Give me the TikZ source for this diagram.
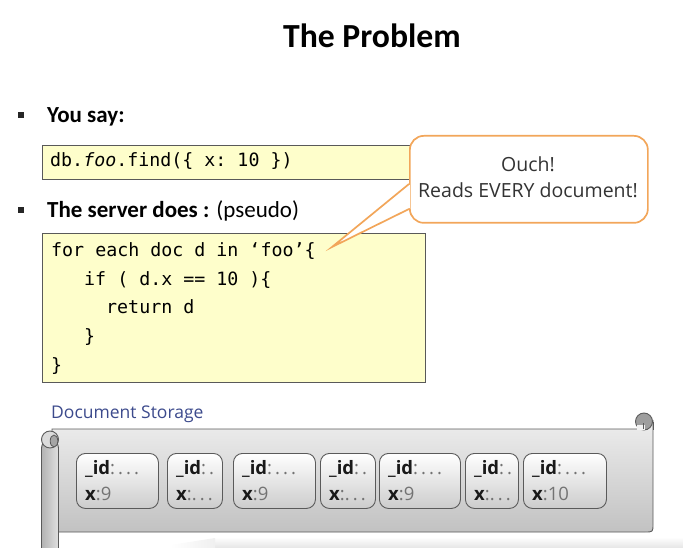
\documentclass[tikz,border=0pt]{standalone}
\usepackage{fontspec}
\setmainfont{Carlito}
\setmonofont{DejaVu Sans Mono}
\newfontfamily\handfont{Open Sans}
\usetikzlibrary{calc}

\definecolor{codeyellow}{HTML}{FEFECB}
\definecolor{calloutorange}{HTML}{F2A65A}
\definecolor{storageblue}{HTML}{3C4A8C}
\definecolor{rimgray}{HTML}{5A5A5A}

\begin{document}
\begin{tikzpicture}[x=1pt, y=-1pt,
  bullet/.style={fill=black!85, minimum size=6.8pt, inner sep=0pt},
  heading/.style={anchor=base west, inner sep=0pt, font=\fontsize{23}{27}\selectfont},
  codebox/.style={draw=black!65, line width=0.8pt, fill=codeyellow, inner sep=0pt, anchor=north west},
  code/.style={anchor=base west, inner sep=0pt, font=\ttfamily\fontsize{18.3}{22}\selectfont},
  callout/.style={draw=calloutorange, line width=1.7pt},
  hand/.style={anchor=base, inner sep=0pt, font=\handfont\fontsize{19.5}{23}\selectfont, text=black!80},
  docbox/.style={draw=rimgray, line width=0.9pt, rounded corners=9pt, top color=white, bottom color=black!20,
                 anchor=north west, inner sep=0pt, minimum height=55pt},
  doctext/.style={anchor=base west, inner sep=0pt, font=\handfont\fontsize{18.5}{22}\selectfont, text=black!55}]
\useasboundingbox (0,0) rectangle (683,548);
\clip (0,0) rectangle (683,548);

% title
\node[anchor=base, inner sep=0pt, font=\bfseries\fontsize{33.7}{40}\selectfont] (title) at (372,48) {The Problem};

% first bullet: the query
\node[bullet] (b1) at (21,115) {};
\node[heading, font=\bfseries\fontsize{23}{27}\selectfont] (say) at (47,123) {You say:};
\node[codebox, minimum width=400pt, minimum height=34pt] (query) at (42,145) {};
\node[code] (qtext) at (50,167) {db.\textit{foo}.find(\{ x: 10 \})};

% second bullet: the server loop
\node[bullet] (b2) at (21,210) {};
\node[heading] (server) at (47,218) {\textbf{The server does :} (pseudo)};
\node[codebox, minimum width=383pt, minimum height=149pt] (loop) at (42,233) {};
\node[code] (l1) at (51,257) {for each doc d in ‘foo’\{};
\node[code] (l2) at (84,285) {if ( d.x == 10 )\{};
\node[code] (l3) at (106,313) {return d};
\node[code] (l4) at (84,342) {\}};
\node[code] (l5) at (51,371) {\}};

% callout
\node[callout, fill=white, rounded corners=14pt, minimum width=238pt, minimum height=87pt,
      anchor=north west, inner sep=0pt] (ouch) at (409,135) {};
\coordinate (tip) at (332,247);
\coordinate (p1) at (409,184);
\coordinate (p2) at (409,209);
\fill[white] (p1) -- (tip) -- (p2) -- cycle;
\draw[white, line width=2.6pt] ($(p1)+(0,1.2)$) -- ($(p2)+(0,-1.2)$);
\draw[callout, line join=miter] (p1) -- (tip) -- (p2);
\node[hand] (ouch1) at (528,172) {Ouch!};
\node[hand] (ouch2) at (528,198) {Reads EVERY document!};

% storage label
\node[anchor=base west, inner sep=0pt, font=\handfont\fontsize{17.5}{20}\selectfont, text=storageblue]
  (storage) at (51,418) {Document Storage};

% scroll body
\shade[top color=black!7, bottom color=black!24, draw=rimgray, line width=0.9pt]
  (52,429) -- (644,429) -- (653,421) -- (653,524) .. controls (653,532) .. (645,532) -- (52,532) -- cycle;
% right curl
\filldraw[fill=black!38, draw=rimgray, line width=0.9pt] (644,421.5) circle (8.5pt);
\fill[black!5] (636.5,424.5) rectangle (645,430);
\draw[rimgray, line width=0.7pt] (643.5,423) -- (643.5,429);
\draw[rimgray, line width=0.9pt] (653,421.5) -- (653,430);
% left roll
\shade[left color=black!30, right color=black!12, draw=rimgray, line width=0.9pt, rounded corners=8pt]
  (41.5,440) rectangle (58.5,560);
\filldraw[fill=black!14, draw=rimgray, line width=0.9pt] (50,439.5) circle (8.5pt);
\filldraw[fill=black!35, draw=rimgray, line width=0.8pt] (54,441) ellipse (3.8pt and 6pt);

% documents
\foreach \x/\w/\idt/\xv [count=\i] in {
   76/82/{:\,.\,.\,.}/{9},
   167/55/{:\,.}/{.\,.\,.},
   233/82/{:\,.\,.\,.}/{9},
   320/55/{:\,.}/{.\,.\,.},
   379/81/{:\,.\,.\,.}/{9},
   465/53/{:\,.}/{.\,.\,.},
   523/83/{:\,.\,.\,.}/{10}} {
  \node[docbox, minimum width=\w pt] (doc\i) at (\x,453) {};
  \node[doctext] (id\i) at (\x+9,474) {\textcolor{black!90}{\bfseries\_id}\idt};
  \node[doctext] (xv\i) at (\x+9,500) {\textcolor{black!90}{\bfseries x}:\xv};
}

% faint shadow below the scroll
\shade[top color=white, bottom color=black!10] (215,537) rectangle (683,548);
\shade[left color=white, right color=black!6] (170,545) -- (215,538) -- (215,548) -- (170,548) -- cycle;
\end{tikzpicture}
\end{document}
